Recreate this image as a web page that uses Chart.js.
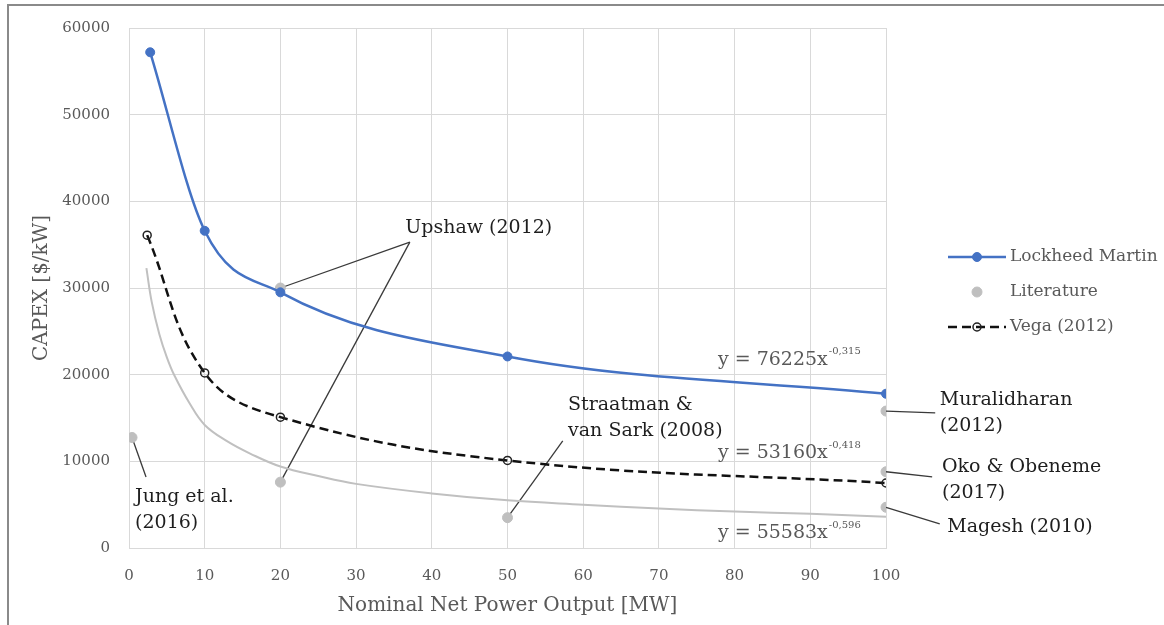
<!DOCTYPE html>
<html>
<head>
<meta charset="utf-8">
<script src="https://cdn.jsdelivr.net/npm/chart.js@4.4.0/dist/chart.umd.min.js"></script>
<style>
  html, body { margin: 0; padding: 0; background: #fff; }
</style>
</head>
<body>
<canvas id="chart" width="1164" height="625"></canvas>
<script>
// Lockheed Martin CAPEX vs plant size
const lmX = [2.8, 10, 20, 50, 100]
const lmY = [57200, 36600, 29500, 22100, 17800]

// Vega (2012)
const vegaX = [2.4, 10, 20, 50, 100]
const vegaY = [36100, 20200, 15100, 10100, 7500]

// literature points: Jung, Upshaw (high), Upshaw (low), Straatman, Muralidharan, Oko, Magesh
const litX = [0.4, 20, 20, 50, 100, 100, 100]
const litY = [12750, 30000, 7600, 3500, 15800, 8800, 4700]

// grey power trend through the literature points
const trendX = [2.3, 3, 4, 5, 6, 8, 10, 13, 16, 20, 25, 30, 40, 50, 60, 70, 80, 90, 100]
const trendY = [32300, 28400, 24700, 22000, 19900, 16700, 14200, 12300, 10900, 9400, 8300, 7400, 6300, 5500, 5000, 4550, 4200, 3950, 3600]

const xTicks = [0, 10, 20, 30, 40, 50, 60, 70, 80, 90, 100]
const yTicks = [0, 10000, 20000, 30000, 40000, 50000, 60000]

const legendNames = ['Lockheed Martin', 'Literature', 'Vega (2012)']
const equations = [
  { base: 'y = 76225x', exp: '-0,315' },
  { base: 'y = 53160x', exp: '-0,418' },
  { base: 'y = 55583x', exp: '-0,596' }
]

const SERIF = "'DejaVu Serif', 'Liberation Serif', serif"
const GREY_TEXT = '#595959'
const GRID = '#d9d9d9'

const pts = (xs, ys) => xs.map((x, i) => ({ x: x, y: ys[i] }))

// callouts: which literature points they point at, where the leader ends, where the text sits
const notes = [
  { lines: ['Upshaw (2012)'], from: [1, 2], end: [37.1, 35300], at: [36.5, 36950] },
  { lines: ['Jung et al.', '(2016)'], from: [0], end: [2.25, 8200], at: [0.8, 5890] },
  { lines: ['Straatman &', 'van Sark (2008)'], from: [3], end: [57.3, 12350], at: [58.0, 16510] },
  { lines: ['Muralidharan', '(2012)'], from: [4], end: [106.5, 15590], at: [107.1, 17090] },
  { lines: ['Oko & Obeneme', '(2017)'], from: [5], end: [106.1, 8200], at: [107.4, 9350] },
  { lines: ['Magesh (2010)'], from: [6], end: [107.1, 2770], at: [108.1, 2430] }
]
// where the trend equations sit (left edge, vertical centre)
const eqAt = [[77.8, 21710], [77.8, 10970], [77.8, 1730]]

const framePlugin = {
  id: 'frame',
  beforeDraw(chart) {
    const ctx = chart.ctx
    ctx.save()
    ctx.strokeStyle = '#8a8a8a'
    ctx.lineWidth = 2
    ctx.beginPath()
    ctx.moveTo(8, 625)
    ctx.lineTo(8, 5)
    ctx.lineTo(1164, 5)
    ctx.stroke()
    ctx.restore()
  }
}

const leaderPlugin = {
  id: 'leaders',
  beforeDatasetsDraw(chart) {
    const ctx = chart.ctx
    const xs = chart.scales.x, ys = chart.scales.y
    ctx.save()
    ctx.strokeStyle = '#3a3a3a'
    ctx.lineWidth = 1.3
    notes.forEach(n => {
      const ex = xs.getPixelForValue(n.end[0]), ey = ys.getPixelForValue(n.end[1])
      n.from.forEach(i => {
        ctx.beginPath()
        ctx.moveTo(xs.getPixelForValue(litX[i]), ys.getPixelForValue(litY[i]))
        ctx.lineTo(ex, ey)
        ctx.stroke()
      })
    })
    ctx.restore()
  },
  afterDraw(chart) {
    const ctx = chart.ctx
    const xs = chart.scales.x, ys = chart.scales.y
    ctx.save()
    ctx.textBaseline = 'middle'
    ctx.textAlign = 'left'
    // callout text
    ctx.fillStyle = '#1e1e1e'
    ctx.font = '19px ' + SERIF
    notes.forEach(n => {
      const tx = xs.getPixelForValue(n.at[0]), ty = ys.getPixelForValue(n.at[1])
      n.lines.forEach((t, k) => ctx.fillText(t, tx, ty + k * 26))
    })
    // trend equations
    ctx.fillStyle = GREY_TEXT
    equations.forEach((e, i) => {
      const tx = xs.getPixelForValue(eqAt[i][0]), ty = ys.getPixelForValue(eqAt[i][1])
      ctx.font = '19px ' + SERIF
      ctx.fillText(e.base, tx, ty)
      const w = ctx.measureText(e.base).width
      ctx.font = '10px ' + SERIF
      ctx.fillText(e.exp, tx + w + 1, ty - 8)
    })

    // legend
    const lx = 948, tx = 1010
    const rows = [257, 292, 327]
    const ds = chart.data.datasets
    ctx.font = '17px ' + SERIF
    legendNames.forEach((name, i) => {
      const y = rows[i]
      const d = ds[i]
      ctx.save()
      if (d.showLine) {
        ctx.strokeStyle = d.borderColor
        ctx.lineWidth = d.borderWidth
        ctx.setLineDash(d.borderDash || [])
        ctx.beginPath()
        ctx.moveTo(lx, y)
        ctx.lineTo(lx + 58, y)
        ctx.stroke()
      }
      ctx.setLineDash([])
      ctx.beginPath()
      ctx.arc(lx + 29, y, d.pointRadius, 0, Math.PI * 2)
      if (d.pointBackgroundColor !== 'rgba(0,0,0,0)') {
        ctx.fillStyle = d.pointBackgroundColor
        ctx.fill()
      }
      ctx.strokeStyle = d.pointBorderColor
      ctx.lineWidth = d.pointBorderWidth
      ctx.stroke()
      ctx.restore()
      ctx.fillStyle = GREY_TEXT
      ctx.fillText(name, tx, y)
    })
    ctx.restore()
  }
}

const ctx = document.getElementById('chart').getContext('2d')
const chart = new Chart(ctx, {
  type: 'scatter',
  plugins: [framePlugin, leaderPlugin],
  data: {
    datasets: [
      {
        label: 'Lockheed Martin',
        data: pts(lmX, lmY),
        showLine: true,
        cubicInterpolationMode: 'monotone',
        borderColor: '#4472c4',
        borderWidth: 2.5,
        pointRadius: 4.5,
        pointBackgroundColor: '#4472c4',
        pointBorderColor: '#4472c4',
        pointBorderWidth: 1,
        order: 1
      },
      {
        label: 'Literature',
        data: pts(litX, litY),
        showLine: false,
        pointRadius: 5,
        pointBackgroundColor: '#bfbfbf',
        pointBorderColor: '#bfbfbf',
        pointBorderWidth: 1,
        order: 2
      },
      {
        label: 'Vega (2012)',
        data: pts(vegaX, vegaY),
        showLine: true,
        tension: 0.4,
        borderColor: '#111111',
        borderWidth: 2.5,
        borderDash: [9, 5],
        pointRadius: 4,
        pointBackgroundColor: 'rgba(0,0,0,0)',
        pointBorderColor: '#222222',
        pointBorderWidth: 1.5,
        order: 3
      },
      {
        label: 'Literature trend',
        data: pts(trendX, trendY),
        showLine: true,
        tension: 0.4,
        borderColor: '#c0c0c0',
        borderWidth: 2,
        pointRadius: 0,
        order: 4
      }
    ]
  },
  options: {
    responsive: false,
    animation: false,
    layout: { padding: { left: 0, top: 28, right: 278, bottom: 0 } },
    plugins: {
      legend: { display: false },
      tooltip: { enabled: false }
    },
    scales: {
      x: {
        type: 'linear',
        min: 0,
        max: 100,
        afterBuildTicks: s => { s.ticks = xTicks.map(v => ({ value: v })) },
        afterFit: s => { s.height = 77 },
        grid: { color: GRID, drawTicks: false },
        border: { color: GRID },
        ticks: { color: GREY_TEXT, padding: 19, font: { family: SERIF, size: 15 }, callback: v => String(v) },
        title: {
          display: true,
          text: 'Nominal Net Power Output [MW]',
          color: GREY_TEXT,
          font: { family: SERIF, size: 20 },
          padding: { top: 0, bottom: 7 }
        }
      },
      y: {
        min: 0,
        max: 60000,
        afterBuildTicks: s => { s.ticks = yTicks.map(v => ({ value: v })) },
        afterFit: s => { s.width = 129 },
        grid: { color: GRID, drawTicks: false },
        border: { color: GRID },
        ticks: { color: GREY_TEXT, padding: 19, font: { family: SERIF, size: 15 }, callback: v => String(v) },
        title: {
          display: true,
          text: 'CAPEX [$/kW]',
          color: GREY_TEXT,
          font: { family: SERIF, size: 20 },
          padding: { top: 30, bottom: 0 }
        }
      }
    }
  }
})
</script>
</body>
</html>
